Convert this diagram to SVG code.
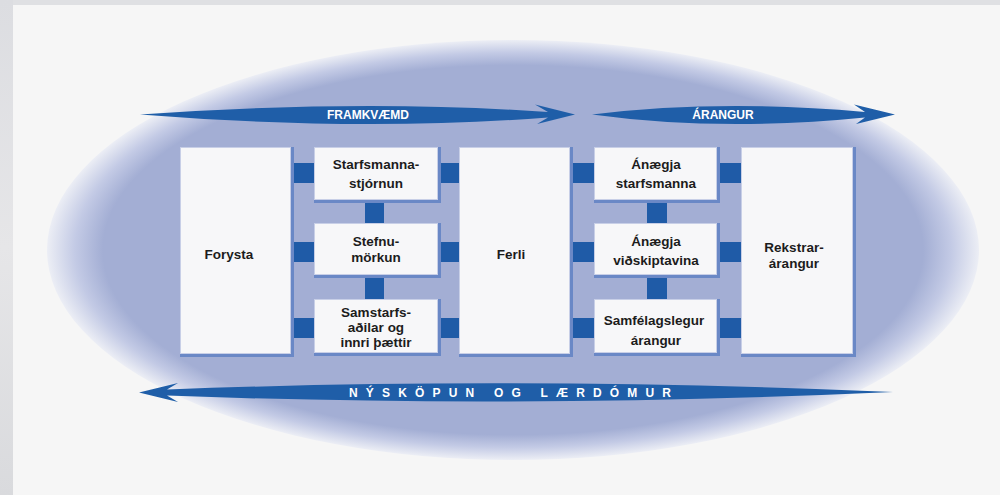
<svg xmlns="http://www.w3.org/2000/svg" width="1000" height="495" viewBox="0 0 1000 495">
  <defs>
    <linearGradient id="frameL" x1="0" y1="0" x2="0" y2="1">
      <stop offset="0" stop-color="#dcdde1"/>
      <stop offset="0.5" stop-color="#e6e6e8"/>
      <stop offset="1" stop-color="#d9dadd"/>
    </linearGradient>
    <radialGradient id="ell" cx="0.5" cy="0.5" r="0.5">
      <stop offset="0" stop-color="#a3aed4"/>
      <stop offset="0.88" stop-color="#a3aed4"/>
      <stop offset="0.94" stop-color="#c3cae5"/>
      <stop offset="1" stop-color="#eceef5"/>
    </radialGradient>
    <style>
      .shadow { fill: #6a88c6; }
      .box { fill: #f7f7f9; stroke: #c8cfe7; stroke-width: 1; }
      .lbl { font-family: "Liberation Sans", Arial, sans-serif; font-weight: bold; font-size: 13.5px; fill: #1c1c1c; text-anchor: middle; }
      .conn { fill: #1f5ba7; }
      .arrow { fill: #1f5ea8; }
      .atxt { font-family: "Liberation Sans", Arial, sans-serif; font-weight: bold; font-size: 12px; fill: #ffffff; text-anchor: middle; }
    </style>
  </defs>

  <!-- background -->
  <rect x="0" y="0" width="1000" height="495" fill="#f6f6f6"/>
  <rect x="0" y="0" width="1000" height="5" fill="#dfe0e3"/>
  <rect x="0" y="0" width="13" height="495" fill="url(#frameL)"/>

  <!-- ellipse -->
  <ellipse cx="513" cy="250" rx="466" ry="210" fill="url(#ell)"/>

  <!-- arrows -->
  <g id="arrows">
    <g id="arrow-framkvaemd">
      <path class="arrow" d="M140,114.5 Q360,99 548,112 L535,104.5 L575,114.5 L537,124 L548,117.5 Q360,132 140,114.5 Z"/>
      <text class="atxt" x="368" y="119">FRAMKVÆMD</text>
    </g>
    <g id="arrow-arangur">
      <path class="arrow" d="M592,114.5 Q720,99 865,112 L854,104.5 L895,114.5 L856,124 L865,117.5 Q720,132 592,114.5 Z"/>
      <text class="atxt" x="723" y="119">ÁRANGUR</text>
    </g>
    <g id="arrow-nyskopun">
      <path class="arrow" d="M893,392 Q520,376 167,389.5 L178,383 L139,392.5 L178,402 L167,395.5 Q520,409 893,392 Z"/>
      <text class="atxt" x="349" y="396.5" font-size="11" style="text-anchor:start" textLength="322" lengthAdjust="spacing">NÝSKÖPUN OG LÆRDÓMUR</text>
    </g>
  </g>

  <!-- connectors -->
  <g id="connectors">
    <rect class="conn" x="293" y="163" width="22" height="20"/>
    <rect class="conn" x="293" y="242" width="22" height="20"/>
    <rect class="conn" x="293" y="318" width="22" height="20"/>
    <rect class="conn" x="439" y="163" width="22" height="20"/>
    <rect class="conn" x="439" y="242" width="22" height="20"/>
    <rect class="conn" x="439" y="318" width="22" height="20"/>
    <rect class="conn" x="365" y="201" width="19" height="23"/>
    <rect class="conn" x="365" y="276" width="19" height="24"/>
    <rect class="conn" x="572" y="163" width="23" height="20"/>
    <rect class="conn" x="572" y="242" width="23" height="20"/>
    <rect class="conn" x="572" y="318" width="23" height="20"/>
    <rect class="conn" x="718" y="163" width="24" height="20"/>
    <rect class="conn" x="718" y="242" width="24" height="20"/>
    <rect class="conn" x="718" y="318" width="24" height="20"/>
    <rect class="conn" x="647" y="201" width="20" height="23"/>
    <rect class="conn" x="647" y="276" width="20" height="24"/>
  </g>

  <!-- nodes -->
  <g id="node-forysta">
    <rect class="shadow" x="180" y="147" width="114" height="210"/>
    <rect class="box" x="180.5" y="147.5" width="110" height="206"/>
    <text class="lbl" x="229" y="259">Forysta</text>
  </g>
  <g id="node-starfsmannastjornun">
    <rect class="shadow" x="314" y="147" width="127" height="56"/>
    <rect class="box" x="314.5" y="147.5" width="123" height="52"/>
    <text class="lbl" x="376" y="169">Starfsmanna-</text>
    <text class="lbl" x="376" y="188">stjórnun</text>
  </g>
  <g id="node-stefnumorkun">
    <rect class="shadow" x="314" y="223" width="127" height="55"/>
    <rect class="box" x="314.5" y="223.5" width="123" height="51"/>
    <text class="lbl" x="376" y="246">Stefnu-</text>
    <text class="lbl" x="376" y="262">mörkun</text>
  </g>
  <g id="node-samstarfsadilar">
    <rect class="shadow" x="314" y="299" width="127" height="57"/>
    <rect class="box" x="314.5" y="299.5" width="123" height="53"/>
    <text class="lbl" x="376" y="317">Samstarfs-</text>
    <text class="lbl" x="376" y="332">aðilar og</text>
    <text class="lbl" x="376" y="347">innri þættir</text>
  </g>
  <g id="node-ferli">
    <rect class="shadow" x="459" y="147" width="114" height="210"/>
    <rect class="box" x="459.5" y="147.5" width="110" height="206"/>
    <text class="lbl" x="511" y="259">Ferli</text>
  </g>
  <g id="node-anaegja-starfsmanna">
    <rect class="shadow" x="594" y="147" width="126" height="56"/>
    <rect class="box" x="594.5" y="147.5" width="122" height="52"/>
    <text class="lbl" x="656" y="169">Ánægja</text>
    <text class="lbl" x="656" y="188">starfsmanna</text>
  </g>
  <g id="node-anaegja-vidskiptavina">
    <rect class="shadow" x="594" y="223" width="126" height="55"/>
    <rect class="box" x="594.5" y="223.5" width="122" height="51"/>
    <text class="lbl" x="656" y="246">Ánægja</text>
    <text class="lbl" x="656" y="265">viðskiptavina</text>
  </g>
  <g id="node-samfelagslegur">
    <rect class="shadow" x="594" y="299" width="126" height="57"/>
    <rect class="box" x="594.5" y="299.5" width="122" height="53"/>
    <text class="lbl" x="654" y="325">Samfélagslegur</text>
    <text class="lbl" x="656" y="345">árangur</text>
  </g>
  <g id="node-rekstrararangur">
    <rect class="shadow" x="741" y="147" width="115" height="210"/>
    <rect class="box" x="741.5" y="147.5" width="111" height="206"/>
    <text class="lbl" x="794" y="252">Rekstrar-</text>
    <text class="lbl" x="794" y="268">árangur</text>
  </g>
</svg>
